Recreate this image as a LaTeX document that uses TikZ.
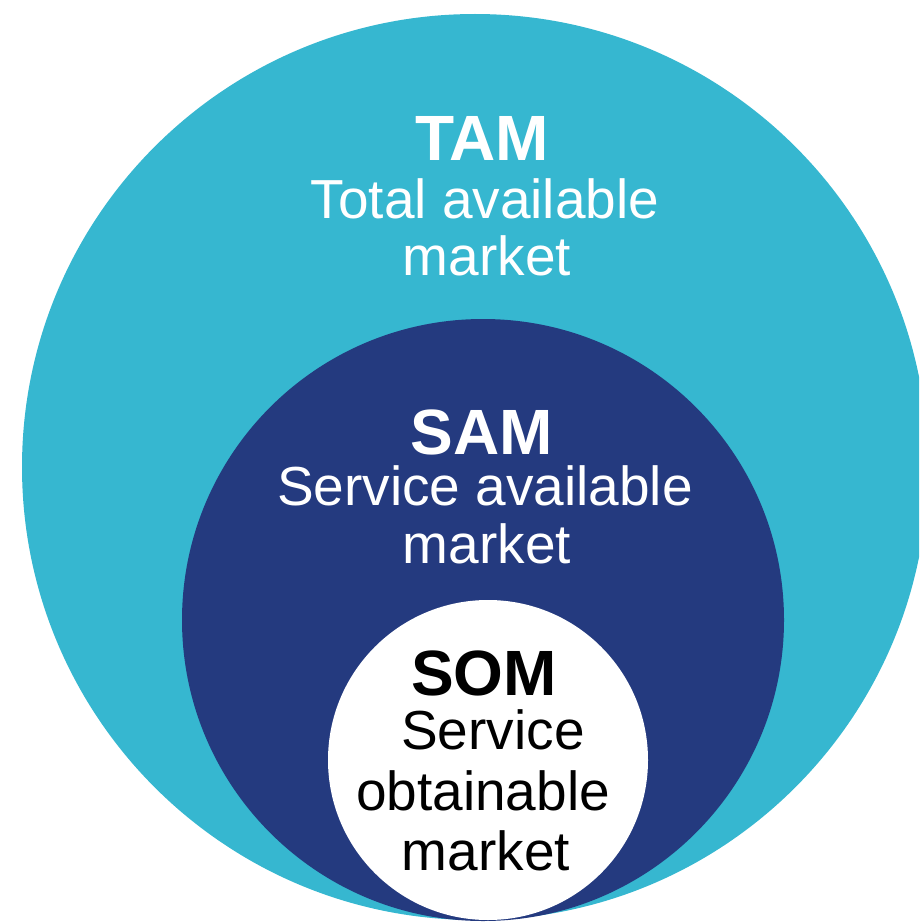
\documentclass[tikz,border=0pt]{standalone}
\usepackage{fontspec}
\setmainfont{Liberation Sans}
\definecolor{tamblue}{HTML}{36B7D0}
\definecolor{samblue}{HTML}{243A7F}
\tikzset{
  head/.style={anchor=base, inner sep=0pt, font=\fontsize{64}{64}\selectfont\bfseries},
  body/.style={anchor=base, inner sep=0pt, font=\fontsize{55}{55}\selectfont},
}
\begin{document}
\begin{tikzpicture}[x=1pt,y=-1pt]
\useasboundingbox (0,0) rectangle (919,923);
\clip (0,0) rectangle (919,923);
% circles
\fill[tamblue] (475,467) circle[radius=453pt];
\fill[samblue] (483,620) circle[radius=301pt];
\fill[white] (488,760) circle[radius=160pt];
% TAM
\node[head,white] (tam) at (482,160) {TAM};
\node[body,white] (tamone) at (485,218) {Total available};
\node[body,white] (tamtwo) at (487,275) {market};
% SAM
\node[head,white] (sam) at (482,454) {SAM};
\node[body,white] (samone) at (485,505) {Service available};
\node[body,white] (samtwo) at (487,563) {market};
% SOM
\node[head,black] (som) at (484,695) {SOM};
\node[body,black] (somone) at (493,749) {Service};
\node[body,black] (somtwo) at (483,810) {obtainable};
\node[body,black] (somthree) at (486,870) {market};
\end{tikzpicture}
\end{document}
